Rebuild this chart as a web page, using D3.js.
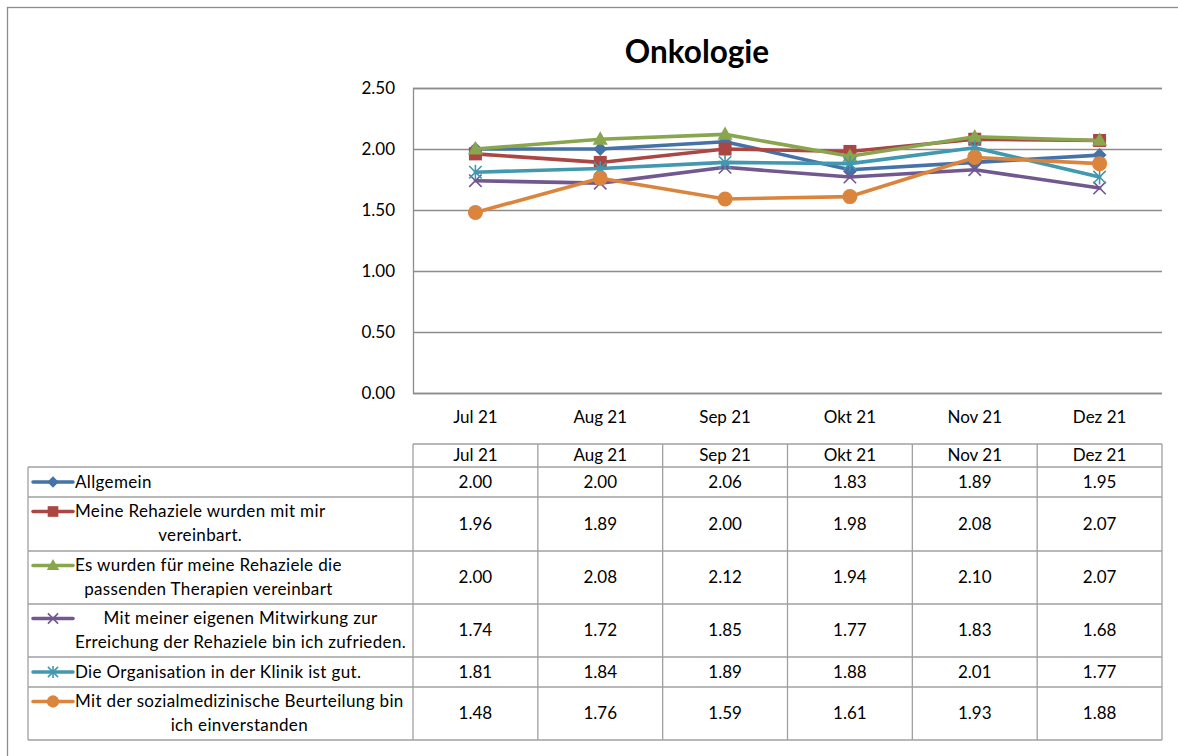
<!DOCTYPE html>
<html><head><meta charset="utf-8">
<script src="https://cdn.jsdelivr.net/npm/d3@7"></script>
<style>html,body{margin:0;padding:0;background:#fff;}svg{display:block;}</style>
</head><body>
<svg id="c" width="1178" height="756"></svg>
<script>
const title = "Onkologie";
const months = ["Jul 21","Aug 21","Sep 21","Okt 21","Nov 21","Dez 21"];
const yTicks = [0, 0.5, 1.0, 1.5, 2.0, 2.5];
const seriesNames = [
  ["Allgemein"],
  ["Meine Rehaziele wurden mit mir","vereinbart."],
  ["Es wurden für meine Rehaziele die","passenden Therapien vereinbart"],
  ["Mit meiner eigenen Mitwirkung zur","Erreichung der Rehaziele bin ich zufrieden."],
  ["Die Organisation in der Klinik ist gut."],
  ["Mit der sozialmedizinische Beurteilung bin","ich einverstanden"]
];
const allgemein     = [2.00, 2.00, 2.06, 1.83, 1.89, 1.95];
const rehaziele     = [1.96, 1.89, 2.00, 1.98, 2.08, 2.07];
const therapien     = [2.00, 2.08, 2.12, 1.94, 2.10, 2.07];
const mitwirkung    = [1.74, 1.72, 1.85, 1.77, 1.83, 1.68];
const organisation  = [1.81, 1.84, 1.89, 1.88, 2.01, 1.77];
const beurteilung   = [1.48, 1.76, 1.59, 1.61, 1.93, 1.88];
const seriesValues = [allgemein, rehaziele, therapien, mitwirkung, organisation, beurteilung];
const colors = ["#4572A7","#AA4643","#89A54E","#71588F","#4198AF","#DB843D"];
const markers = ["diamond","square","triangle","x","star","circle"];

const FONT = "Lato, 'Open Sans', sans-serif";
const FS = 17;
const svg = d3.select("#c");
const grid = "#8c8c8c", border = "#a0a0a0";

// outer frame
svg.append("rect").attr("x",7.5).attr("y",7.5).attr("width",1190).attr("height",760)
  .attr("fill","none").attr("stroke","#8c8c8c").attr("stroke-width",1.3);

// title
svg.append("text").attr("x",697).attr("y",63).attr("text-anchor","middle")
  .attr("font-family",FONT).attr("font-weight","bold").attr("font-size",31.5).attr("fill","#000").text(title);

const x = d3.scaleBand().domain(months).range([413,1162]);
const y = d3.scaleLinear().domain([0,2.5]).range([393,88]);
const cx = m => x(m) + x.bandwidth()/2;

// gridlines + y axis
const yAxis = d3.axisLeft(y).tickValues(yTicks).tickFormat(d3.format(".2f")).tickSize(-(1162-413)).tickPadding(18);
const ga = svg.append("g").attr("transform","translate(413,0)").call(yAxis);
ga.select(".domain").attr("stroke",grid).attr("stroke-width",1.3);
ga.selectAll(".tick line").attr("stroke",grid).attr("stroke-width",1.3);
ga.selectAll(".tick text").attr("font-family",FONT).attr("font-size",FS).attr("fill","#000");

// x category labels
const xAxis = d3.axisBottom(x).tickSize(0).tickPadding(18);
const gx = svg.append("g").attr("transform","translate(0,393)").call(xAxis);
gx.select(".domain").remove();
gx.selectAll(".tick text").attr("font-family",FONT).attr("font-size",FS).attr("fill","#000");

function markerPath(type, s){
  switch(type){
    case "diamond": return `M0,${-s}L${s},0L0,${s}L${-s},0Z`;
    case "square": return `M${-s},${-s}H${s}V${s}H${-s}Z`;
    case "triangle": return `M0,${-s*1.1}L${s*1.05},${s*0.75}L${-s*1.05},${s*0.75}Z`;
    case "x": return `M${-s},${-s}L${s},${s}M${s},${-s}L${-s},${s}`;
    case "star": return `M${-s},${-s}L${s},${s}M${s},${-s}L${-s},${s}M0,${-s*1.2}V${s*1.2}`;
    case "circle": return d3.arc()({innerRadius:0,outerRadius:s,startAngle:0,endAngle:2*Math.PI});
  }
}
function drawMarker(g, type, color, s){
  const p = g.append("path").attr("d", markerPath(type,s));
  if(type==="x"||type==="star") p.attr("fill","none").attr("stroke",color).attr("stroke-width",1.6);
  else p.attr("fill",color).attr("stroke","none");
}
const mSize = {diamond:7, square:6.5, triangle:7.2, x:6.2, star:6.2, circle:7.5};

const line = d3.line().x((d,i)=>cx(months[i])).y(d=>y(d));
seriesValues.forEach((vals,si)=>{
  const g = svg.append("g");
  g.append("path").attr("d",line(vals)).attr("fill","none").attr("stroke",colors[si])
    .attr("stroke-width",3.6).attr("stroke-linejoin","round").attr("stroke-linecap","round");
  vals.forEach((v,i)=>{
    const mg = g.append("g").attr("transform",`translate(${cx(months[i])},${y(v)})`);
    drawMarker(mg, markers[si], colors[si], mSize[markers[si]]);
  });
});

// data table
const tblLeft = 28, legRight = 413, tblRight = 1162;
const headTop = 444, headBot = 467;
const rowBounds = [467, 497, 551, 604, 657, 687, 740];
const tb = svg.append("g");
const tl = (x1,y1,x2,y2)=>tb.append("line").attr("x1",x1).attr("y1",y1).attr("x2",x2).attr("y2",y2)
  .attr("stroke",border).attr("stroke-width",1.3);
tl(legRight, headTop, tblRight, headTop);
months.forEach(m=>{
  tb.append("text").attr("x",cx(m)).attr("y",(headTop+headBot)/2).attr("dy","0.35em").attr("text-anchor","middle")
    .attr("font-family",FONT).attr("font-size",FS).text(m);
});
rowBounds.forEach(yy=>tl(tblLeft, yy, tblRight, yy));
tl(tblLeft, rowBounds[0], tblLeft, rowBounds[rowBounds.length-1]);
x.domain().forEach(m=>tl(x(m), headTop, x(m), rowBounds[rowBounds.length-1]));
tl(tblRight, headTop, tblRight, rowBounds[rowBounds.length-1]);

seriesNames.forEach((lines,si)=>{
  const top = rowBounds[si], bot = rowBounds[si+1];
  const first = lines.length===1 ? (top+bot)/2 : top+14.5;
  tb.append("line").attr("x1",33).attr("x2",73).attr("y1",first).attr("y2",first)
    .attr("stroke",colors[si]).attr("stroke-width",3.5).attr("stroke-linecap","round");
  const mg = tb.append("g").attr("transform",`translate(53,${first})`);
  drawMarker(mg, markers[si], colors[si], mSize[markers[si]]*0.82);
  const tg = tb.append("g");
  const ts = lines.map((t,li)=>tg.append("text").attr("y",first+li*24).attr("dy","0.35em")
    .attr("font-family",FONT).attr("font-size",FS).attr("letter-spacing",0.35).text(t));
  const maxW = d3.max(ts, t=>t.node().getComputedTextLength());
  ts.forEach(t=>t.attr("x",75+maxW/2).attr("text-anchor","middle"));
  seriesValues[si].forEach((v,i)=>{
    tb.append("text").attr("x",cx(months[i])).attr("y",(top+bot)/2).attr("dy","0.35em").attr("text-anchor","middle")
      .attr("font-family",FONT).attr("font-size",FS).text(d3.format(".2f")(v));
  });
});
</script>
</body></html>
